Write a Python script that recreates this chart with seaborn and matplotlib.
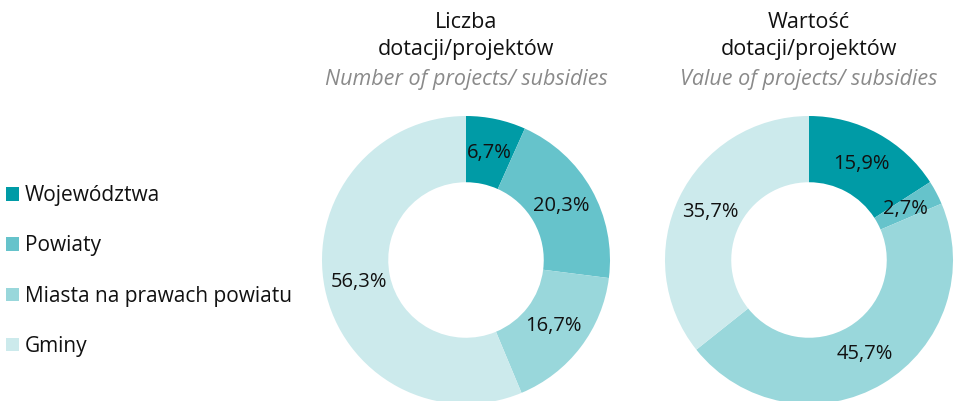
import seaborn as sns
import matplotlib.pyplot as plt
from matplotlib.patches import Patch

# data
categories = ['Województwa', 'Powiaty', 'Miasta na prawach powiatu', 'Gminy']
count_share = [6.7, 20.3, 16.7, 56.3]
value_share = [15.9, 2.7, 45.7, 35.7]
titles_pl = [('Liczba', 'dotacji/projektów'), ('Wartość', 'dotacji/projektów')]
titles_en = ['Number of projects/ subsidies', 'Value of projects/ subsidies']
colors = ['#009ba6', '#66c3cb', '#99d7db', '#cceaec']

sns.set_theme(style='white')
plt.rcParams['font.family'] = ['Open Sans', 'DejaVu Sans']

fig = plt.figure(figsize=(9.55, 4.01), dpi=100)

def pct(p):
    return f'{p:.1f}'.replace('.', ',') + '%'

centers = [466, 809]
radius_px = 144
for cx, vals, tpl, ten in zip(centers, [count_share, value_share], titles_pl, titles_en):
    ax = fig.add_axes([(cx - radius_px) / 955, (141 - radius_px) / 401,
                       2 * radius_px / 955, 2 * radius_px / 401])
    ax.pie(vals, colors=colors, startangle=90, counterclock=False,
           autopct=pct, pctdistance=0.76,
           wedgeprops=dict(width=0.46, linewidth=0),
           textprops=dict(fontsize=14.5, color='#111111'))
    ax.set_xlim(-1, 1)
    ax.set_ylim(-1, 1)
    ax.set_aspect('equal')
    ax.axis('off')
    fig.text(cx / 955, 1 - 22 / 401, tpl[0], ha='center', va='center',
             fontsize=15.5, color='#111111')
    fig.text(cx / 955, 1 - 49 / 401, tpl[1], ha='center', va='center',
             fontsize=15.5, color='#111111')
    fig.text(cx / 955, 1 - 79 / 401, ten, ha='center', va='center',
             fontsize=15.5, color='#8a8a8a', style='italic')

handles = [Patch(facecolor=c, edgecolor='none') for c in colors]
leg = fig.legend(handles, categories, loc='upper left', bbox_to_anchor=(0.0, 1 - 179 / 401),
                 frameon=False, fontsize=15, handlelength=0.6, handleheight=0.6,
                 handletextpad=0.3, labelspacing=1.40, borderaxespad=0, borderpad=0.3)
for t in leg.get_texts():
    t.set_color('#111111')

fig.savefig('out.png', dpi=100)
